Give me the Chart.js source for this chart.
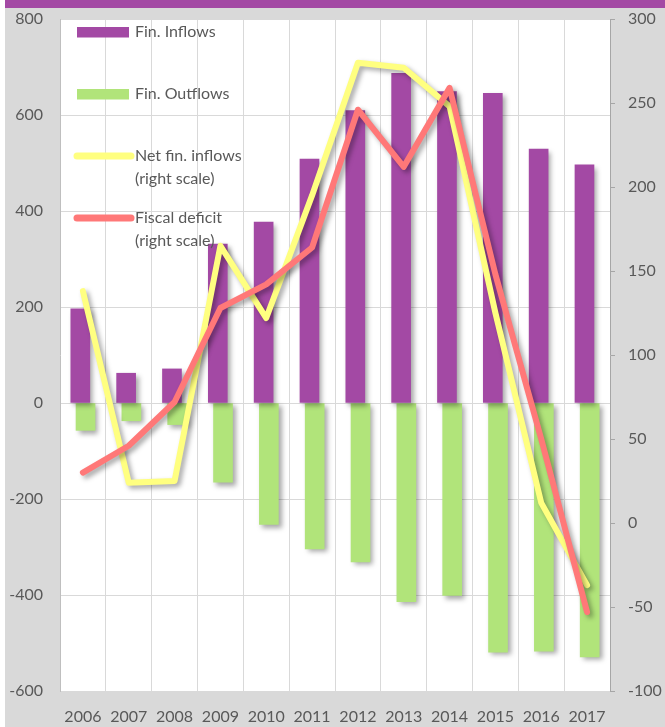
<!DOCTYPE html>
<html>
<head>
<meta charset="utf-8">
<script src="https://cdn.jsdelivr.net/npm/chart.js@4"></script>
<style>
  html, body { margin: 0; padding: 0; background: #fff; }
  #card {
    position: absolute; left: 5px; top: 0; width: 660px; height: 719px;
    background: #d9d9d9; border-top: 8px solid #a349a4;
  }
</style>
</head>
<body>
<div id="card"><canvas id="flowsChart"></canvas></div>
<script>
// Chart data
const years = ['2006', '2007', '2008', '2009', '2010', '2011', '2012', '2013', '2014', '2015', '2016', '2017'];
const inflows = [196, 62, 71, 331, 377, 508, 609, 687, 649, 645, 529, 496];
const outflows = [-57, -37, -45, -165, -253, -304, -331, -414, -401, -519, -517, -529];
const netInflows = [138, 24, 25, 165, 122, 195, 274, 271, 248, 125, 12, -37];
const fiscalDeficit = [30, 46, 72, 128, 142, 164, 246, 212, 259, 148, 50, -53];
const leftTicks = { min: -600, max: 800, step: 200 };
const rightTicks = { min: -100, max: 300, step: 50 };

const FONT = 'Lato, "Open Sans", sans-serif';
const TEXT = '#595959';

// white plot area on the grey card
const plotBackground = {
    id: 'plotBackground',
    beforeDraw(chart) {
        const { ctx, chartArea } = chart;
        ctx.save();
        ctx.fillStyle = '#ffffff';
        ctx.fillRect(chartArea.left, chartArea.top, chartArea.right - chartArea.left, chartArea.bottom - chartArea.top);
        ctx.restore();
    }
};

// soft drop shadow under bars and lines
const dropShadow = {
    id: 'dropShadow',
    beforeDatasetDraw(chart) {
        const ctx = chart.ctx;
        ctx.save();
        ctx.shadowColor = 'rgba(0,0,0,0.35)';
        ctx.shadowBlur = 5;
        ctx.shadowOffsetX = 3;
        ctx.shadowOffsetY = 3;
    },
    afterDatasetDraw(chart) {
        chart.ctx.restore();
    }
};

// legend stacked inside the plot, top left
const innerLegend = {
    id: 'innerLegend',
    afterDraw(chart) {
        const { ctx, chartArea } = chart;
        const x0 = chartArea.left + 17;
        const textX = chartArea.left + 75;
        ctx.save();
        ctx.font = '16px ' + FONT;
        ctx.textBaseline = 'middle';
        chart.data.datasets.forEach((ds, i) => {
            const cy = chartArea.top + 13 + i * 62;
            if (ds.type === 'line') {
                ctx.strokeStyle = ds.borderColor;
                ctx.lineWidth = 7;
                ctx.lineCap = 'round';
                ctx.beginPath();
                ctx.moveTo(x0, cy);
                ctx.lineTo(x0 + 54, cy);
                ctx.stroke();
            } else {
                ctx.fillStyle = ds.backgroundColor;
                ctx.fillRect(x0, cy - 5, 52, 10.5);
            }
            ctx.fillStyle = TEXT;
            const lines = Array.isArray(ds.label) ? ds.label : [ds.label];
            lines.forEach((t, j) => ctx.fillText(t, textX, cy + j * 23));
        });
        ctx.restore();
    }
};

// keep the tick padding from pushing the plot top down
function fixVertical(scale) {
    scale.width = 55;
    scale.paddingTop = 10;
    scale.paddingBottom = 10;
}

const chart = new Chart(document.getElementById('flowsChart'), {
    type: 'bar',
    data: {
        labels: years,
        datasets: [
            {
                label: 'Fin. Inflows',
                data: inflows,
                backgroundColor: '#a349a4',
                xAxisID: 'xIn',
                yAxisID: 'y',
                barThickness: 19,
                grouped: false,
                order: 3
            },
            {
                label: 'Fin. Outflows',
                data: outflows,
                backgroundColor: '#b1e47a',
                xAxisID: 'xOut',
                yAxisID: 'y',
                barThickness: 19,
                grouped: false,
                order: 3
            },
            {
                type: 'line',
                label: ['Net fin. inflows', '(right scale)'],
                data: netInflows,
                borderColor: '#ffff80',
                borderWidth: 6,
                borderCapStyle: 'round',
                borderJoinStyle: 'round',
                pointRadius: 0,
                tension: 0,
                xAxisID: 'x',
                yAxisID: 'y1',
                order: 2
            },
            {
                type: 'line',
                label: ['Fiscal deficit', '(right scale)'],
                data: fiscalDeficit,
                borderColor: '#ff7878',
                borderWidth: 6,
                borderCapStyle: 'round',
                borderJoinStyle: 'round',
                pointRadius: 0,
                tension: 0,
                xAxisID: 'x',
                yAxisID: 'y1',
                order: 1
            }
        ]
    },
    options: {
        responsive: true,
        maintainAspectRatio: false,
        animation: false,
        layout: { padding: { top: 11, left: 0, right: 0, bottom: 0 } },
        plugins: {
            legend: { display: false },
            tooltip: { enabled: false }
        },
        scales: {
            x: {
                type: 'category',
                offset: true,
                grid: { offset: true, color: '#d9d9d9', drawTicks: false },
                border: { display: false },
                ticks: { color: TEXT, font: { family: FONT, size: 16 }, padding: 16, maxRotation: 0 },
                afterFit(scale) { scale.height = 36; }
            },
            // hidden axes that nudge the two bar series apart, as the overlapped bars in the original
            xIn: {
                type: 'linear', display: false, offset: false,
                min: 2005.5 + 0.057, max: 2017.5 + 0.057
            },
            xOut: {
                type: 'linear', display: false, offset: false,
                min: 2005.5 - 0.057, max: 2017.5 - 0.057
            },
            y: {
                position: 'left',
                min: leftTicks.min, max: leftTicks.max,
                ticks: { stepSize: leftTicks.step, color: TEXT, font: { family: FONT, size: 16 }, padding: 17 },
                grid: { color: '#d9d9d9', drawTicks: false },
                border: { color: '#bfbfbf' },
                afterFit: fixVertical
            },
            y1: {
                position: 'right',
                min: rightTicks.min, max: rightTicks.max,
                ticks: { stepSize: rightTicks.step, color: TEXT, font: { family: FONT, size: 16 }, padding: 13 },
                grid: { drawOnChartArea: false, color: '#a6a6a6', tickLength: 5 },
                border: { color: '#a6a6a6' },
                afterFit: fixVertical
            }
        }
    },
    plugins: [plotBackground, dropShadow, innerLegend]
});
</script>
</body>
</html>
